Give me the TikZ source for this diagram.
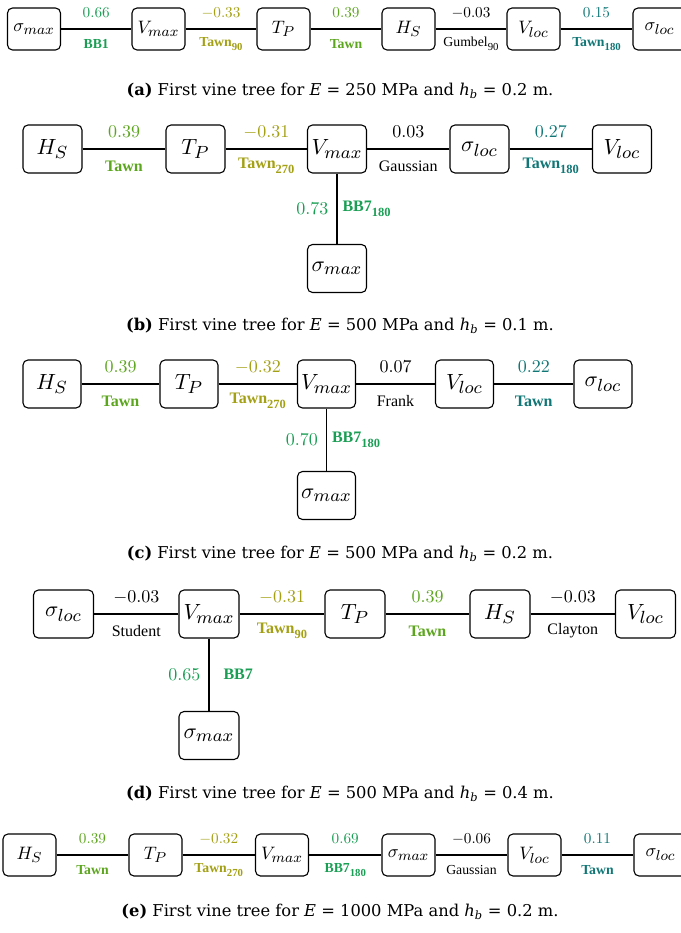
\documentclass[tikz,border=0pt]{standalone}
\usepackage{graphicx}
\usepackage{fontspec}
\newfontfamily\famfont{Liberation Serif}
\newfontfamily\capserif{DejaVu Serif}

% colours of the edge families
\definecolor{cgreen}{RGB}{26,158,84}
\definecolor{colive}{RGB}{163,160,20}
\definecolor{clime}{RGB}{92,165,30}
\definecolor{cteal}{RGB}{16,118,118}

\newcommand{\capfont}{\capserif\fontsize{16.3}{19}\selectfont}
\newcommand{\vcap}[3]{{\capfont\textbf{(#1)} First vine tree for \textit{E} = #2~MPa and \textit{h}\textsubscript{\textit{b}} = #3~m.}}
% lowered index of a copula family name
\newcommand{\fsub}[1]{\raisebox{-0.3em}{\fontsize{12.5}{12.5}\selectfont #1}}
% reduced size used in the one-row trees
\newcommand{\sml}[1]{\scalebox{0.86}{#1}}
% variable names: symbol with a large index, scaled from the base size
\newcommand{\vlab}[3]{\scalebox{#1}{$#2_{\mbox{\fontsize{8}{8}\selectfont$#3$}}$}}
\newcommand{\bv}[2]{\vlab{2.2}{#1}{#2}}
\newcommand{\sv}[2]{\vlab{1.8}{#1}{#2}}
% dependence values
\newcommand{\bn}[1]{\scalebox{1.8}{$#1$}}
\newcommand{\sn}[1]{\scalebox{1.52}{$#1$}}

\tikzset{
  x=1pt, y=1pt,
  bigbox/.style={draw, rounded corners=5pt, line width=1.1pt, minimum width=59pt,
    minimum height=48pt, inner sep=0pt},
  smallbox/.style={bigbox, minimum width=53pt, minimum height=42pt},
  edge/.style={line width=1.1pt},
  numfont/.style={inner sep=0pt},
  famfont/.style={inner sep=0pt, font=\fontsize{16}{16}\selectfont\famfont},
  bignum/.style={numfont, midway, yshift=17pt},
  bigfam/.style={famfont, midway, yshift=-17pt},
  smallnum/.style={numfont, midway, yshift=16pt},
  smallfam/.style={famfont, midway, yshift=-15pt},
  leftnum/.style={numfont, midway, anchor=east, xshift=-8pt},
  rightfam/.style={famfont, midway, anchor=west, xshift=5pt},
  caption/.style={inner sep=0pt}
}

\begin{document}
\begin{tikzpicture}
\useasboundingbox (0,0) rectangle (680,-933);

% ---------- (a) ----------
\node[smallbox] (a1) at (34,-29) {\sv{\sigma}{max}};
\node[smallbox] (a2) at (158.5,-29) {\sv{V}{max}};
\node[smallbox] (a3) at (283.5,-29) {\sv{T}{P}};
\node[smallbox] (a4) at (408.5,-29) {\sv{H}{S}};
\node[smallbox] (a5) at (533.5,-29) {\sv{V}{loc}};
\node[smallbox] (a6) at (659.5,-29) {\sv{\sigma}{loc}};
\draw[edge] (a1) -- node[smallnum, cgreen] {\sn{0.66}} node[smallfam, cgreen] {\sml{\bfseries BB1}} (a2);
\draw[edge] (a2) -- node[smallnum, colive] {\sn{-0.33}} node[smallfam, colive] {\sml{\bfseries Tawn\fsub{90}}} (a3);
\draw[edge] (a3) -- node[smallnum, clime] {\sn{0.39}} node[smallfam, clime] {\sml{\bfseries Tawn}} (a4);
\draw[edge] (a4) -- node[smallnum] {\sn{-0.03}} node[smallfam] {\sml{Gumbel\fsub{90}}} (a5);
\draw[edge] (a5) -- node[smallnum, cteal] {\sn{0.15}} node[smallfam, cteal] {\sml{\bfseries Tawn\fsub{180}}} (a6);
\node[caption] (capa) at (340,-91) {\vcap{a}{250}{0.2}};

% ---------- (b) ----------
\node[bigbox] (b1) at (52.5,-149) {\bv{H}{S}};
\node[bigbox] (b2) at (195.5,-149) {\bv{T}{P}};
\node[bigbox] (b3) at (337,-149) {\bv{V}{max}};
\node[bigbox] (b4) at (479.5,-149) {\bv{\sigma}{loc}};
\node[bigbox] (b5) at (622,-149) {\bv{V}{loc}};
\node[bigbox] (b6) at (337,-268.5) {\bv{\sigma}{max}};
\draw[edge] (b1) -- node[bignum, clime] {\bn{0.39}} node[bigfam, clime] {\bfseries Tawn} (b2);
\draw[edge] (b2) -- node[bignum, colive] {\bn{-0.31}} node[bigfam, colive] {\bfseries Tawn\fsub{270}} (b3);
\draw[edge] (b3) -- node[bignum] {\bn{0.03}} node[bigfam] {Gaussian} (b4);
\draw[edge] (b4) -- node[bignum, cteal] {\bn{0.27}} node[bigfam, cteal] {\bfseries Tawn\fsub{180}} (b5);
\draw[edge] (b3) -- node[leftnum, cgreen] {\bn{0.73}} node[rightfam, cgreen] {\bfseries BB7\fsub{180}} (b6);
\node[caption] (capb) at (340,-326) {\vcap{b}{500}{0.1}};

% ---------- (c) ----------
\node[bigbox, minimum width=58pt] (c1) at (52,-384) {\bv{H}{S}};
\node[bigbox, minimum width=58pt] (c2) at (189,-384) {\bv{T}{P}};
\node[bigbox, minimum width=58pt] (c3) at (326.5,-384) {\bv{V}{max}};
\node[bigbox, minimum width=58pt] (c4) at (464.5,-384) {\bv{V}{loc}};
\node[bigbox, minimum width=58pt] (c5) at (603,-384) {\bv{\sigma}{loc}};
\node[bigbox, minimum width=58pt] (c6) at (326.5,-495.5) {\bv{\sigma}{max}};
\draw[edge] (c1) -- node[bignum, clime] {\bn{0.39}} node[bigfam, clime] {\bfseries Tawn} (c2);
\draw[edge] (c2) -- node[bignum, colive] {\bn{-0.32}} node[bigfam, colive] {\bfseries Tawn\fsub{270}} (c3);
\draw[edge] (c3) -- node[bignum] {\bn{0.07}} node[bigfam] {Frank} (c4);
\draw[edge] (c4) -- node[bignum, cteal] {\bn{0.22}} node[bigfam, cteal] {\bfseries Tawn} (c5);
\draw[edge] (c3) -- node[leftnum, cgreen] {\bn{0.70}} node[rightfam, cgreen] {\bfseries BB7\fsub{180}} (c6);
\node[caption] (capc) at (340,-554) {\vcap{c}{500}{0.2}};

% ---------- (d) ----------
\node[bigbox, minimum width=60pt] (d1) at (63.5,-614) {\bv{\sigma}{loc}};
\node[bigbox, minimum width=60pt] (d2) at (209,-614) {\bv{V}{max}};
\node[bigbox, minimum width=60pt] (d3) at (355,-614) {\bv{T}{P}};
\node[bigbox, minimum width=60pt] (d4) at (500,-614) {\bv{H}{S}};
\node[bigbox, minimum width=60pt] (d5) at (645.5,-614) {\bv{V}{loc}};
\node[bigbox, minimum width=60pt] (d6) at (209,-735.5) {\bv{\sigma}{max}};
\draw[edge] (d1) -- node[bignum] {\bn{-0.03}} node[bigfam] {Student} (d2);
\draw[edge] (d2) -- node[bignum, colive] {\bn{-0.31}} node[bigfam, colive] {\bfseries Tawn\fsub{90}} (d3);
\draw[edge] (d3) -- node[bignum, clime] {\bn{0.39}} node[bigfam, clime] {\bfseries Tawn} (d4);
\draw[edge] (d4) -- node[bignum] {\bn{-0.03}} node[bigfam] {Clayton} (d5);
\draw[edge] (d2) -- node[leftnum, cgreen] {\bn{0.65}} node[rightfam, cgreen, xshift=9pt] {\bfseries BB7} (d6);
\node[caption] (capd) at (340,-794) {\vcap{d}{500}{0.4}};

% ---------- (e) ----------
\node[smallbox] (e1) at (29.5,-855) {\sv{H}{S}};
\node[smallbox] (e2) at (155.5,-855) {\sv{T}{P}};
\node[smallbox] (e3) at (282,-855) {\sv{V}{max}};
\node[smallbox] (e4) at (408.5,-855) {\sv{\sigma}{max}};
\node[smallbox] (e5) at (534.5,-855) {\sv{V}{loc}};
\node[smallbox] (e6) at (660.5,-855) {\sv{\sigma}{loc}};
\draw[edge] (e1) -- node[smallnum, clime] {\sn{0.39}} node[smallfam, clime] {\sml{\bfseries Tawn}} (e2);
\draw[edge] (e2) -- node[smallnum, colive] {\sn{-0.32}} node[smallfam, colive] {\sml{\bfseries Tawn\fsub{270}}} (e3);
\draw[edge] (e3) -- node[smallnum, cgreen] {\sn{0.69}} node[smallfam, cgreen] {\sml{\bfseries BB7\fsub{180}}} (e4);
\draw[edge] (e4) -- node[smallnum] {\sn{-0.06}} node[smallfam] {\sml{Gaussian}} (e5);
\draw[edge] (e5) -- node[smallnum, cteal] {\sn{0.11}} node[smallfam, cteal] {\sml{\bfseries Tawn}} (e6);
\node[caption] (cape) at (340,-912) {\vcap{e}{1000}{0.2}};
\end{tikzpicture}
\end{document}
